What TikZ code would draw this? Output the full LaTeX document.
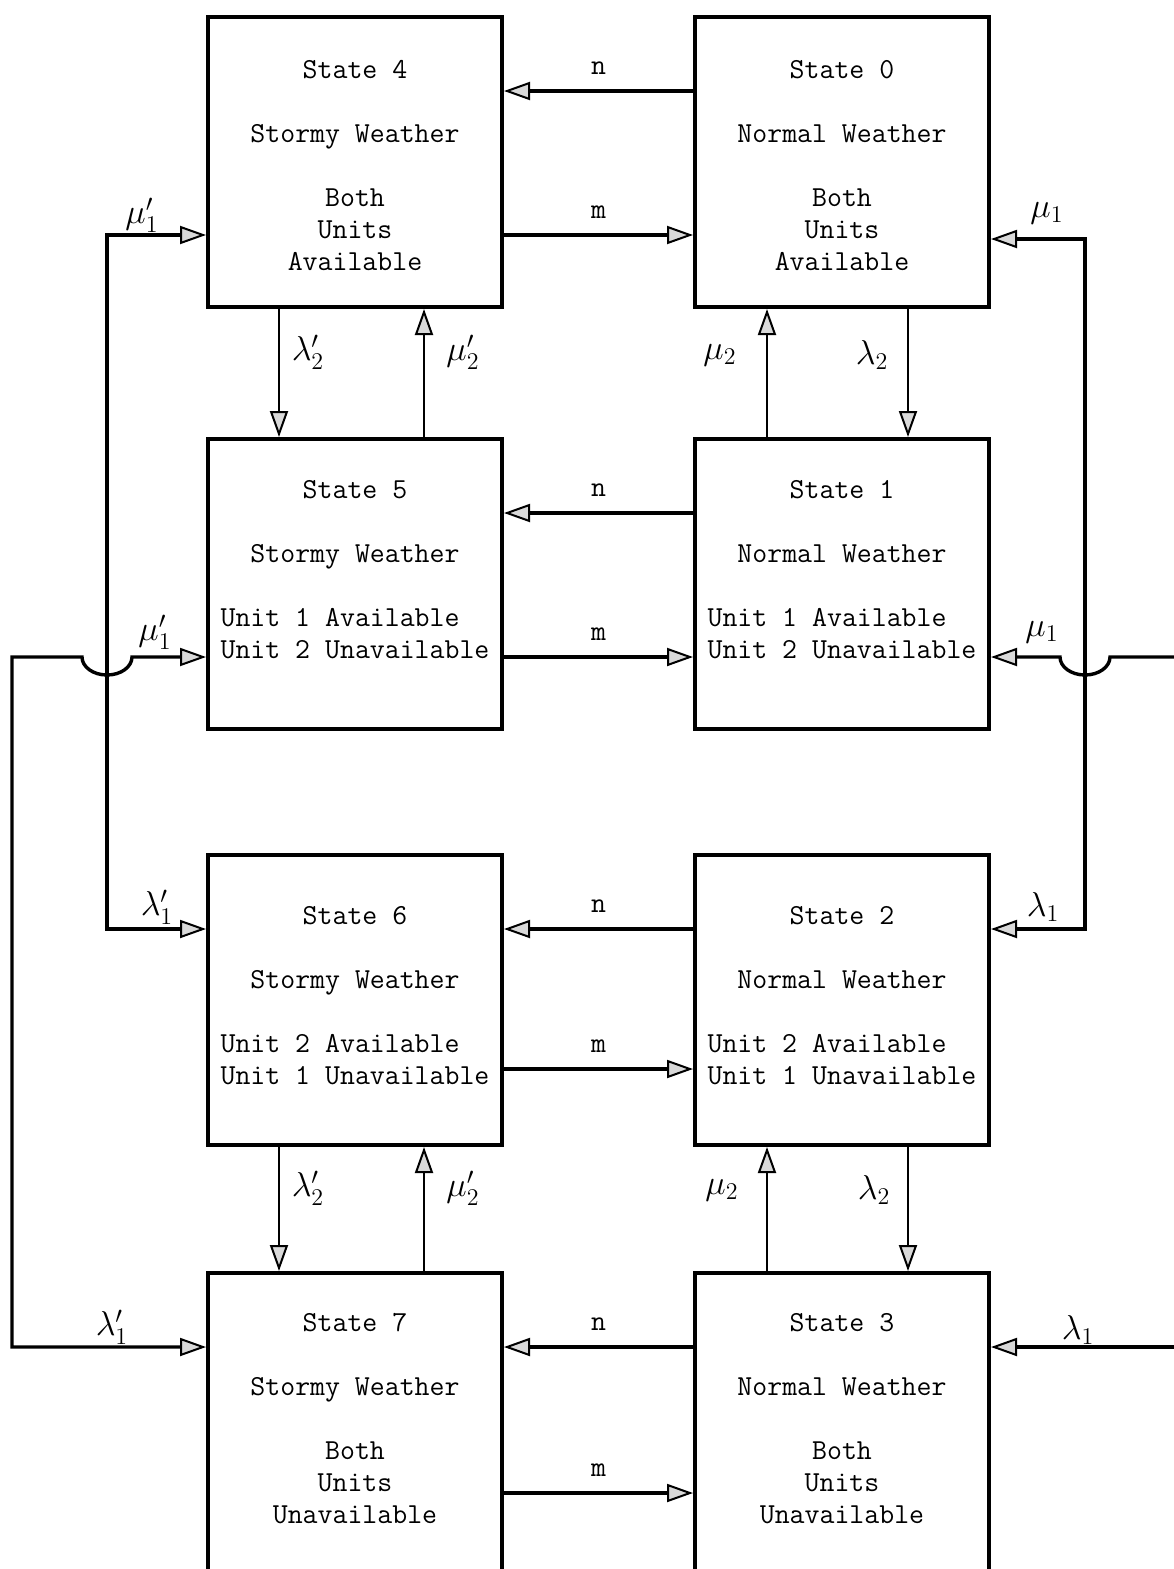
\documentclass[tikz,border=0pt]{standalone}
\usetikzlibrary{arrows.meta}
\begin{document}
\begin{tikzpicture}[x=0.5pt, y=-0.5pt,
  font=\fontsize{14.5}{16}\selectfont\ttfamily,
  box/.style={draw, line width=2pt, minimum width=147pt, minimum height=145pt, inner sep=0pt},
  tall/.style={box, minimum height=150pt},
  txt/.style={anchor=north, align=center, inner sep=0pt},
  tri/.tip={Triangle[open, length=13pt, width=9pt, line width=1pt, fill=black!15]},
  arr/.style={line width=1.7pt, -tri},
  arrv/.style={line width=1.3pt, -tri},
  both/.style={line width=1.7pt, tri-tri},
  rate/.style={font=\fontsize{18}{18}\selectfont, inner sep=0pt},
  hop/.style={x radius=12.5pt, y radius=9pt}]
  \useasboundingbox (0,0) rectangle (1173,1569);

  % the eight states
  \node[box] (s4) at (355,162) {};
  \node[box] (s0) at (842,162) {};
  \node[box] (s5) at (355,584) {};
  \node[box] (s1) at (842,584) {};
  \node[box] (s6) at (355,1000) {};
  \node[box] (s2) at (842,1000) {};
  \node[tall] (s7) at (355,1423) {};
  \node[tall] (s3) at (842,1423) {};

  \node[txt] (t4) at ([yshift=-22.5pt]s4.north) {State 4\\[16pt]Stormy Weather\\[16pt]Both\\Units\\Available};
  \node[txt] (t0) at ([yshift=-22.5pt]s0.north) {State 0\\[16pt]Normal Weather\\[16pt]Both\\Units\\Available};
  \node[txt] (t5) at ([yshift=-21.5pt]s5.north) {State 5\\[16pt]Stormy Weather\\[16pt]Unit 1 Available\hphantom{xx}\\Unit 2 Unavailable};
  \node[txt] (t1) at ([yshift=-21.5pt]s1.north) {State 1\\[16pt]Normal Weather\\[16pt]Unit 1 Available\hphantom{xx}\\Unit 2 Unavailable};
  \node[txt] (t6) at ([yshift=-26.5pt]s6.north) {State 6\\[16pt]Stormy Weather\\[16pt]Unit 2 Available\hphantom{xx}\\Unit 1 Unavailable};
  \node[txt] (t2) at ([yshift=-26.5pt]s2.north) {State 2\\[16pt]Normal Weather\\[16pt]Unit 2 Available\hphantom{xx}\\Unit 1 Unavailable};
  \node[txt] (t7) at ([yshift=-21pt]s7.north) {State 7\\[16pt]Stormy Weather\\[16pt]Both\\Units\\Unavailable};
  \node[txt] (t3) at ([yshift=-21pt]s3.north) {State 3\\[16pt]Normal Weather\\[16pt]Both\\Units\\Unavailable};

  % weather changes
  \draw[arr] ([yshift=-38pt]s0.north west) -- node[above=4pt] (n0) {n} ([yshift=-38pt]s4.north east);
  \draw[arr] ([yshift=-110pt]s4.north east) -- node[above=4pt] (m4) {m} ([yshift=-110pt]s0.north west);
  \draw[arr] ([yshift=-38pt]s1.north west) -- node[above=4pt] (n1) {n} ([yshift=-38pt]s5.north east);
  \draw[arr] ([yshift=-110pt]s5.north east) -- node[above=4pt] (m5) {m} ([yshift=-110pt]s1.north west);
  \draw[arr] ([yshift=-38pt]s2.north west) -- node[above=4pt] (n2) {n} ([yshift=-38pt]s6.north east);
  \draw[arr] ([yshift=-108pt]s6.north east) -- node[above=4pt] (m6) {m} ([yshift=-108pt]s2.north west);
  \draw[arr] ([yshift=-38pt]s3.north west) -- node[above=4pt] (n3) {n} ([yshift=-38pt]s7.north east);
  \draw[arr] ([yshift=-111pt]s7.north east) -- node[above=4pt] (m7) {m} ([yshift=-111pt]s3.north west);

  % unit 2
  \draw[arrv] ([xshift=36.5pt]s4.south west) -- ([xshift=36.5pt]s5.north west);
  \draw[arrv] ([xshift=109pt]s5.north west) -- ([xshift=109pt]s4.south west);
  \draw[arrv] ([xshift=37pt]s1.north west) -- ([xshift=37pt]s0.south west);
  \draw[arrv] ([xshift=107.5pt]s0.south west) -- ([xshift=107.5pt]s1.north west);
  \draw[arrv] ([xshift=36.5pt]s6.south west) -- ([xshift=36.5pt]s7.north west);
  \draw[arrv] ([xshift=109pt]s7.north west) -- ([xshift=109pt]s6.south west);
  \draw[arrv] ([xshift=37pt]s3.north west) -- ([xshift=37pt]s2.south west);
  \draw[arrv] ([xshift=107.5pt]s2.south west) -- ([xshift=107.5pt]s3.north west);

  % unit 1
  \draw[both] ([yshift=-110pt]s4.north west) -- ++(-99,0) |- ([yshift=-38pt]s6.north west);
  \draw[both] ([yshift=-110pt]s5.north west) -- ++(-74,0) arc[start angle=0, end angle=-180, hop]
    -- ++(-70,0) |- ([yshift=-38pt]s7.north west);
  \draw[both] ([yshift=-112pt]s0.north east) -- ++(94,0) |- ([yshift=-38pt]s2.north east);
  \path ([yshift=-110pt]s1.north east) ++(190,0) coordinate (e1);
  \path ([yshift=-38pt]s3.north east) ++(190,0) coordinate (e3);
  \draw[arr] (e1) -- ++(-71,0) arc[start angle=0, end angle=-180, hop] -- ([yshift=-110pt]s1.north east);
  \draw[arr] (e3) -- ([yshift=-38pt]s3.north east);

  % rates
  \node[rate] (a1) at (142,215) {$\mu'_1$};
  \node[rate] (a2) at (155,632) {$\mu'_1$};
  \node[rate] (a3) at (157,907) {$\lambda'_1$};
  \node[rate] (a4) at (112,1327) {$\lambda'_1$};
  \node[rate] (b1) at (1047,213) {$\mu_1$};
  \node[rate] (b2) at (1042,632) {$\mu_1$};
  \node[rate] (b3) at (1043,907) {$\lambda_1$};
  \node[rate] (b4) at (1078,1330) {$\lambda_1$};
  \node[rate] (c1) at (308,352) {$\lambda'_2$};
  \node[rate] (c2) at (463,352) {$\mu'_2$};
  \node[rate] (c3) at (720,355) {$\mu_2$};
  \node[rate] (c4) at (872,355) {$\lambda_2$};
  \node[rate] (d1) at (308,1188) {$\lambda'_2$};
  \node[rate] (d2) at (463,1188) {$\mu'_2$};
  \node[rate] (d3) at (722,1190) {$\mu_2$};
  \node[rate] (d4) at (874,1190) {$\lambda_2$};
\end{tikzpicture}
\end{document}
